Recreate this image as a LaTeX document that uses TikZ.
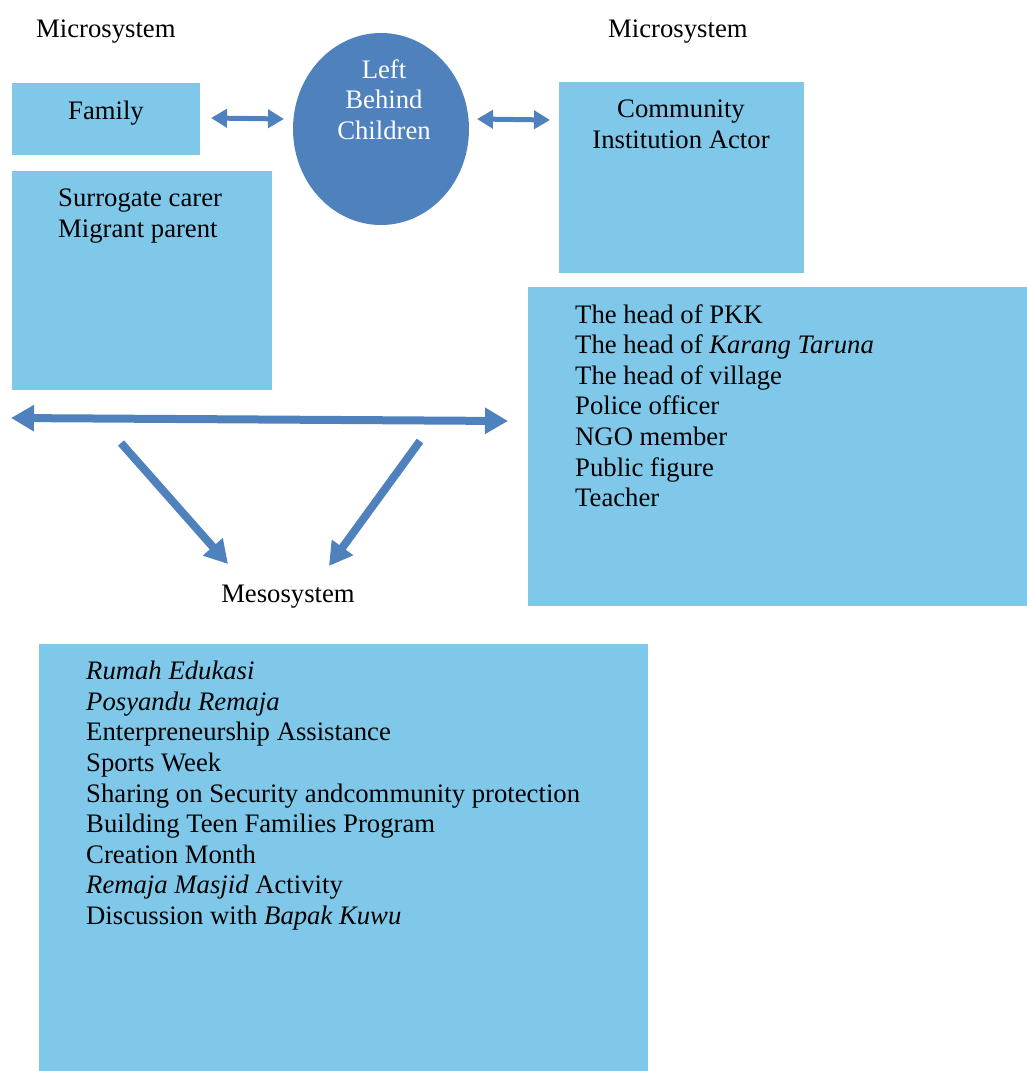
\documentclass[tikz,border=0pt]{standalone}
\usepackage{fontspec}
\setmainfont{Liberation Serif}
\usetikzlibrary{arrows.meta,shapes.geometric}
\definecolor{boxblue}{HTML}{7FC8EA}
\definecolor{arrowblue}{HTML}{4F81BD}

\tikzset{
  box/.style={fill=boxblue, inner sep=0pt, anchor=north west},
  txt/.style={inner sep=0pt, font=\fontsize{26.7}{30.6}\selectfont},
  bigarrow/.style={arrowblue, line width=8pt, {Triangle[length=23pt,width=25pt]}-{Triangle[length=23pt,width=25pt]}},
  smallarrow/.style={arrowblue, line width=5pt, {Triangle[length=16pt,width=18pt]}-{Triangle[length=16pt,width=18pt]}},
  downarrow/.style={arrowblue, line width=8pt, -{Triangle[length=23pt,width=25pt]}},
}

\begin{document}
\begin{tikzpicture}[x=1pt,y=-1pt]
    \useasboundingbox (0,0) rectangle (1027,1071);

    % boxes
    \node[box, minimum width=188pt, minimum height=72pt] (family) at (12,83) {};
    \node[box, minimum width=260pt, minimum height=219pt] (carer) at (12,171) {};
    \node[box, minimum width=245pt, minimum height=191pt] (community) at (559,82) {};
    \node[box, minimum width=499pt, minimum height=319pt] (actors) at (528,287) {};
    \node[box, minimum width=609pt, minimum height=427pt] (programs) at (39,644) {};
    \node[ellipse, fill=arrowblue, inner sep=0pt, minimum width=176pt, minimum height=192pt] (children) at (381,129) {};

    % labels
    \node[txt, anchor=base west] (micro1) at (36,37) {Microsystem};
    \node[txt, anchor=base west] (micro2) at (608,37) {Microsystem};
    \node[txt, anchor=base] (familytxt) at (106,119) {Family};
    \node[txt, anchor=north, align=center, text=white] (childtxt) at (384,59) {Left\\Behind\\Children};
    \node[txt, anchor=north west, align=left] (carertxt) at (58,189) {Surrogate carer\\Migrant parent};
    \node[txt, anchor=north, align=center] (communitytxt) at (681,100) {Community\\Institution Actor};
    \node[txt, anchor=north west, align=left] (actorstxt) at (575,304) {The head of PKK\\
        The head of \textit{Karang Taruna}\\
        The head of village\\
        Police officer\\
        NGO member\\
        Public figure\\
        Teacher};
    \node[txt, anchor=base] (meso) at (288,602) {Mesosystem};
    \node[txt, anchor=north west, align=left] (programstxt) at (86,661) {\textit{Rumah Edukasi}\\
        \textit{Posyandu Remaja}\\
        Enterpreneurship Assistance\\
        Sports Week\\
        Sharing on Security andcommunity protection\\
        Building Teen Families Program\\
        Creation Month\\
        \textit{Remaja Masjid} Activity\\
        Discussion with \textit{Bapak Kuwu}};

    % arrow ends
    \coordinate (fa) at (211,118);
    \coordinate (fb) at (284,119);
    \coordinate (ca) at (477,119);
    \coordinate (cb) at (550,120);
    \coordinate (la) at (11,418);
    \coordinate (lb) at (508,421);
    \coordinate (da) at (121,443);
    \coordinate (db) at (228,564);
    \coordinate (ea) at (420,441);
    \coordinate (eb) at (329,566);

    % arrows
    \draw[smallarrow] (fa) -- (fb);
    \draw[smallarrow] (ca) -- (cb);
    \draw[bigarrow] (la) -- (lb);
    \draw[downarrow] (da) -- (db);
    \draw[downarrow] (ea) -- (eb);
\end{tikzpicture}
\end{document}
